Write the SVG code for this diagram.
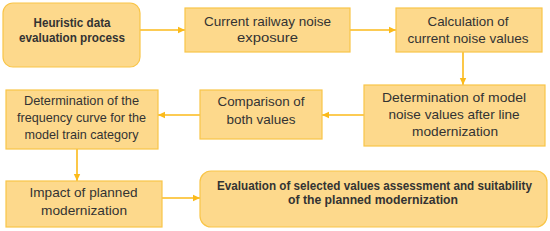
<svg xmlns="http://www.w3.org/2000/svg" width="550" height="231" viewBox="0 0 550 231">
<style>
.box{fill:#FDD98C;stroke:#F9C548;stroke-width:1.2}
.t{font-family:"Liberation Sans",Arial,sans-serif;font-size:13px;fill:#333;text-anchor:middle}
.b{font-weight:bold;font-size:12px}
.c{stroke:#FBBA1A;stroke-width:1.6;fill:none;marker-end:url(#ah)}
</style>
<defs>
<marker id="ah" markerWidth="8" markerHeight="8" refX="7" refY="4" orient="auto" markerUnits="userSpaceOnUse">
<path d="M0,0.8 L7,4 L0,7.2 Z" fill="#FBBA1A"/>
</marker>
</defs>
<rect width="550" height="231" fill="#fff"/>
<g id="connectors">
<line class="c" x1="140" y1="30" x2="185" y2="30"/>
<line class="c" x1="350" y1="30" x2="396" y2="30"/>
<line class="c" x1="463" y1="52" x2="463" y2="85"/>
<line class="c" x1="364" y1="115" x2="322" y2="115"/>
<line class="c" x1="200" y1="115" x2="158" y2="115"/>
<line class="c" x1="77" y1="149" x2="77" y2="181"/>
<line class="c" x1="162" y1="198" x2="200" y2="198"/>
</g>
<g id="n1">
<rect class="box" x="3" y="3" width="137" height="64" rx="10"/>
<text class="t b" x="72" y="27" textLength="77" lengthAdjust="spacingAndGlyphs">Heuristic data</text>
<text class="t b" x="72" y="42" textLength="106" lengthAdjust="spacingAndGlyphs">evaluation process</text>
</g>
<g id="n2">
<rect class="box" x="185" y="8" width="165" height="44"/>
<text class="t" x="267.5" y="26" textLength="127" lengthAdjust="spacingAndGlyphs">Current railway noise</text>
<text class="t" x="267.5" y="42" textLength="61" lengthAdjust="spacingAndGlyphs">exposure</text>
</g>
<g id="n3">
<rect class="box" x="396" y="8" width="146" height="44"/>
<text class="t" x="468" y="26" textLength="81" lengthAdjust="spacingAndGlyphs">Calculation of</text>
<text class="t" x="468" y="43" textLength="121" lengthAdjust="spacingAndGlyphs">current noise values</text>
</g>
<g id="n4">
<rect class="box" x="364" y="85" width="181" height="61"/>
<text class="t" x="454" y="102" textLength="144" lengthAdjust="spacingAndGlyphs">Determination of model</text>
<text class="t" x="454" y="119" textLength="131" lengthAdjust="spacingAndGlyphs">noise values after line</text>
<text class="t" x="455" y="136" textLength="86" lengthAdjust="spacingAndGlyphs">modernization</text>
</g>
<g id="n5">
<rect class="box" x="200" y="90" width="122" height="49"/>
<text class="t" x="261" y="106" textLength="87" lengthAdjust="spacingAndGlyphs">Comparison of</text>
<text class="t" x="261" y="124" textLength="69" lengthAdjust="spacingAndGlyphs">both values</text>
</g>
<g id="n6">
<rect class="box" x="6" y="90" width="152" height="59"/>
<text class="t" x="81.5" y="105" textLength="115" lengthAdjust="spacingAndGlyphs">Determination of the</text>
<text class="t" x="81.5" y="122" textLength="129" lengthAdjust="spacingAndGlyphs">frequency curve for the</text>
<text class="t" x="81.5" y="139" textLength="114" lengthAdjust="spacingAndGlyphs">model train category</text>
</g>
<g id="n7">
<rect class="box" x="6" y="181" width="156" height="46"/>
<text class="t" x="83.5" y="197" textLength="108" lengthAdjust="spacingAndGlyphs">Impact of planned</text>
<text class="t" x="84" y="215" textLength="86" lengthAdjust="spacingAndGlyphs">modernization</text>
</g>
<g id="n8">
<rect class="box" x="200" y="171" width="347" height="56" rx="11"/>
<text class="t b" x="374.5" y="190" textLength="315" lengthAdjust="spacingAndGlyphs">Evaluation of selected values assessment and suitability</text>
<text class="t b" x="373" y="204" textLength="170" lengthAdjust="spacingAndGlyphs">of the planned modernization</text>
</g>
</svg>
